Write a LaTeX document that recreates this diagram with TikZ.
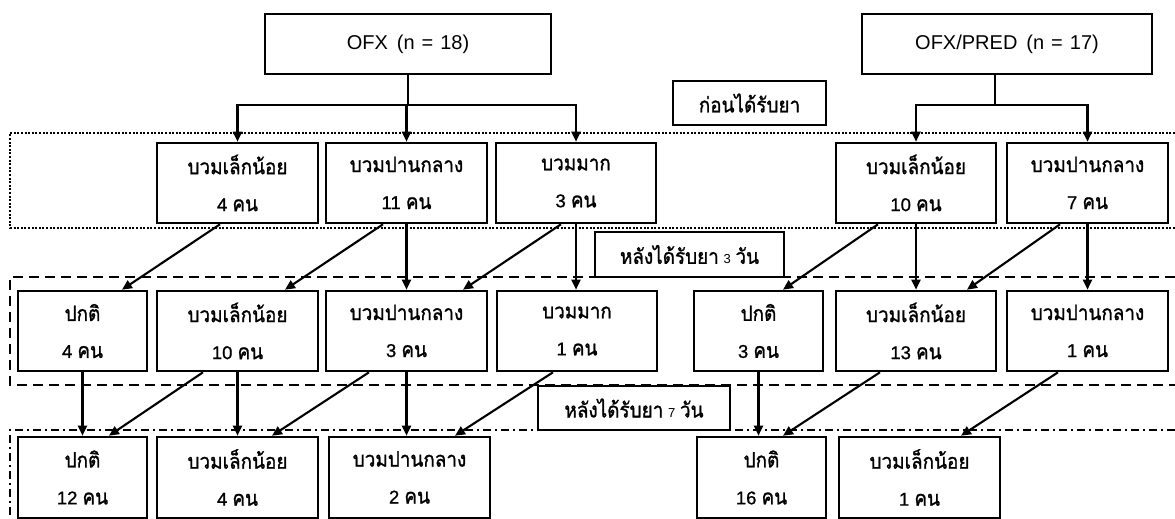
\documentclass[tikz,border=0pt]{standalone}
\usepackage{fontspec}
\setmainfont{Liberation Sans}
\newfontfamily\thaifont[Script=Thai,FakeBold=1.2,FakeStretch=0.9]{Loma}
\newfontfamily\boldlat[FakeBold=0.8]{Liberation Sans}
\usetikzlibrary{arrows.meta,calc}
\newcommand\tf[1]{{\thaifont\fontsize{21}{37}\selectfont #1}}
\newcommand\smallnum[1]{{\fontsize{13}{12}\selectfont #1}}
\begin{document}
\begin{tikzpicture}[x=1pt,y=-1pt,
  box/.style={draw, line width=2.6pt, inner sep=0pt, align=center, minimum height=80pt, font=\boldlat\fontsize{18.5}{37}\selectfont},
  topbox/.style={draw, line width=2.6pt, inner sep=0pt, align=center, minimum height=60pt, font=\fontsize{20}{22}\selectfont},
  lab/.style={draw, line width=1.3pt, inner sep=0pt, align=center, font=\fontsize{17}{20}\selectfont},
  arr/.style={line width=2.1pt, -{Triangle[length=10pt,width=9pt]}},
  ln/.style={line width=2.1pt},
  grp/.style={line width=2.4pt}]
\useasboundingbox (0,0) rectangle (1175,519);

% group frames
\draw[grp, dash pattern=on 2pt off 1.6pt] (1175,133) -| (10,228) -- (1175,228);
\draw[grp, dash pattern=on 10pt off 6pt] (1175,277) -| (10,385) -- (1175,385);
\draw[grp, dash pattern=on 8pt off 4pt on 2pt off 4pt] (1175,430) -| (10,519);

% top boxes
\node[topbox, minimum width=286pt] (ofx) at (408,44) {OFX\hspace{9pt}(n\hspace{7pt}=\hspace{7pt}18)};
\node[topbox, minimum width=290pt] (ofxp) at (1007,44) {OFX/PRED\hspace{9pt}(n\hspace{7pt}=\hspace{7pt}17)};

% labels
\node[lab, minimum width=153pt, minimum height=44pt] (L0) at (749.5,103) {\tf{ก่อนได้รับยา}};
\node[lab, minimum width=189pt, minimum height=45pt] (L1) at (689.5,254.5) {\tf{หลังได้รับยา} \smallnum{3} \tf{วัน}};
\node[lab, minimum width=192pt, minimum height=44pt] (L2) at (634,408) {\tf{หลังได้รับยา} \smallnum{7} \tf{วัน}};

% row 1
\node[box, minimum width=161pt] (A1) at (237.5,183) {\tf{บวมเล็กน้อย}\\4 \tf{คน}};
\node[box, minimum width=161pt] (A2) at (406.5,183) {\tf{บวมปานกลาง}\\11 \tf{คน}};
\node[box, minimum width=160pt] (A3) at (576,183) {\tf{บวมมาก}\\3 \tf{คน}};
\node[box, minimum width=160pt] (B1) at (916,183) {\tf{บวมเล็กน้อย}\\10 \tf{คน}};
\node[box, minimum width=161pt] (B2) at (1087.5,183) {\tf{บวมปานกลาง}\\7 \tf{คน}};

% row 2
\node[box, minimum width=129pt] (C1) at (82.5,331) {\tf{ปกติ}\\4 \tf{คน}};
\node[box, minimum width=161pt] (C2) at (237.5,331) {\tf{บวมเล็กน้อย}\\10 \tf{คน}};
\node[box, minimum width=161pt] (C3) at (406.5,331) {\tf{บวมปานกลาง}\\3 \tf{คน}};
\node[box, minimum width=160pt] (C4) at (577,331) {\tf{บวมมาก}\\1 \tf{คน}};
\node[box, minimum width=129pt] (C5) at (758.5,331) {\tf{ปกติ}\\3 \tf{คน}};
\node[box, minimum width=160pt] (C6) at (916,331) {\tf{บวมเล็กน้อย}\\13 \tf{คน}};
\node[box, minimum width=161pt] (C7) at (1087.5,331) {\tf{บวมปานกลาง}\\1 \tf{คน}};

% row 3
\node[box, minimum width=129pt, minimum height=81pt] (D1) at (82.5,477.5) {\tf{ปกติ}\\12 \tf{คน}};
\node[box, minimum width=161pt, minimum height=81pt] (D2) at (237.5,477.5) {\tf{บวมเล็กน้อย}\\4 \tf{คน}};
\node[box, minimum width=161pt, minimum height=81pt] (D3) at (409.5,477.5) {\tf{บวมปานกลาง}\\2 \tf{คน}};
\node[box, minimum width=129pt, minimum height=81pt] (D4) at (761.5,477.5) {\tf{ปกติ}\\16 \tf{คน}};
\node[box, minimum width=161pt, minimum height=81pt] (D5) at (919.5,477.5) {\tf{บวมเล็กน้อย}\\1 \tf{คน}};

% top connectors
\coordinate (j1) at (408,105);
\coordinate (j2) at (995,105);
\draw[ln] (ofx.south) -- (j1);
\draw[arr] (j1) -| (A1.north);
\draw[arr] (j1) -| (A3.north);
\draw[arr] (j1 -| A2.north) -- (A2.north);
\draw[ln] (j2 |- ofxp.south) -- (j2);
\draw[arr] (j2) -| (B1.north);
\draw[arr] (j2) -| (B2.north);

% row 1 -> row 2
\draw[arr] ($(A1.south)+(-17.5,0)$) -- ($(C1.north)+(39.5,0)$);
\draw[arr] ($(A2.south)+(-23.5,0)$) -- ($(C2.north)+(47.5,0)$);
\draw[arr] (A2.south) -- (A2.south |- C3.north);
\draw[arr] ($(A3.south)+(-15,0)$) -- ($(C3.north)+(56.5,0)$);
\draw[arr] (A3.south) -- (A3.south |- C4.north);
\draw[arr] ($(B1.south)+(-38,0)$) -- ($(C5.north)+(24.5,0)$);
\draw[arr] (B1.south) -- (C6.north);
\draw[arr] ($(B2.south)+(-27.5,0)$) -- ($(C6.north)+(51,0)$);
\draw[arr] (B2.south) -- (C7.north);

% row 2 -> row 3
\draw[arr] (C1.south) -- (D1.north);
\draw[arr] ($(C2.south)+(-34.5,0)$) -- ($(D1.north)+(26.5,0)$);
\draw[arr] (C2.south) -- (D2.north);
\draw[arr] ($(C3.south)+(-37.5,0)$) -- ($(D2.north)+(34.5,0)$);
\draw[arr] (C3.south) -- (C3.south |- D3.north);
\draw[arr] ($(C4.south)+(-24,0)$) -- ($(D3.north)+(45.5,0)$);
\draw[arr] (C5.south) -- (C5.south |- D4.north);
\draw[arr] ($(C6.south)+(-36,0)$) -- ($(D4.north)+(21.5,0)$);
\draw[arr] ($(C7.south)+(-29.5,0)$) -- ($(D5.north)+(41.5,0)$);
\end{tikzpicture}
\end{document}
